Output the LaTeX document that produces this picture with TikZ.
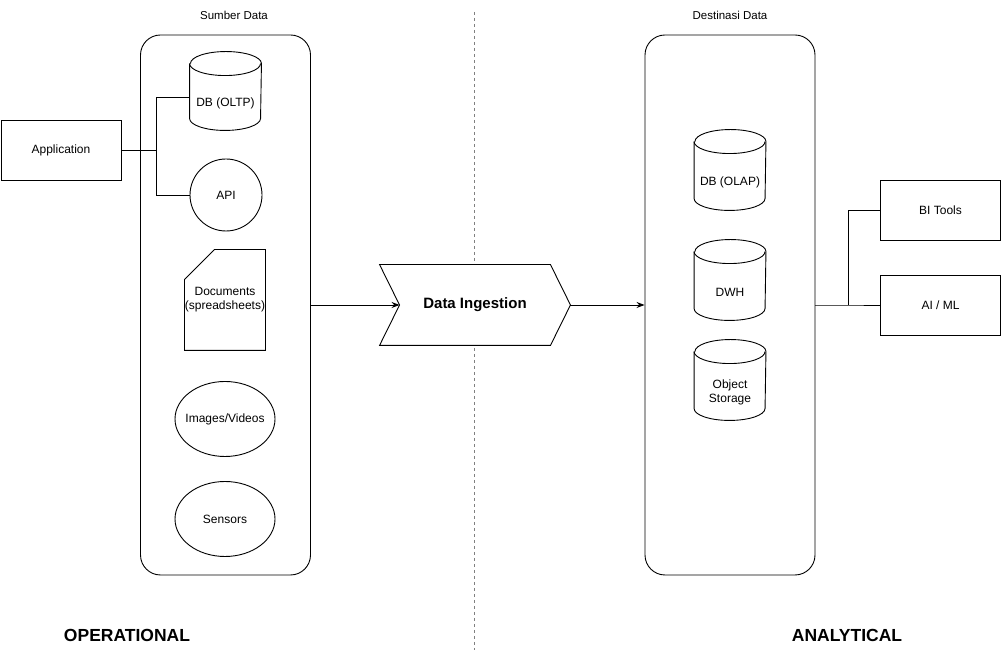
\documentclass[tikz,border=0pt]{standalone}
\usepackage{fontspec}
\setmainfont{Liberation Sans}
\usetikzlibrary{shapes.geometric,arrows.meta,calc}
\newcommand{\cylnode}[4]{%
  \node[cylbox,minimum height=#3] (#1) at (#2) {};
  \draw[fill=white] ($(#1.north west)+(0,-12)$) -- ($(#1.south west)+(0,12)$)
    arc[start angle=180,end angle=360,x radius=35.5pt,y radius=12pt]
    -- ($(#1.north east)+(0,-12)$)
    arc[start angle=0,end angle=180,x radius=35.5pt,y radius=12pt];
  \draw ($(#1.north west)+(0,-12)$) arc[start angle=180,end angle=360,x radius=35.5pt,y radius=12pt];
  \node[lbl,align=center] at ($(#1.center)+(0,-12)$) {#4};
}
\begin{document}
\begin{tikzpicture}[x=1pt,y=1pt,line width=0.9pt,
  lbl/.style={font=\fontsize{12}{14}\selectfont,inner sep=0pt},
  box/.style={draw,rectangle,minimum width=120pt,minimum height=60pt,inner sep=0pt,font=\fontsize{12}{14}\selectfont},
  container/.style={draw,rectangle,rounded corners=20pt,minimum width=170pt,minimum height=540pt,inner sep=0pt},
  cylbox/.style={rectangle,minimum width=71pt,inner sep=0pt},
  shapebox/.style={rectangle,inner sep=0pt,font=\fontsize{12}{14}\selectfont,align=center},
  ell/.style={draw,ellipse,minimum width=100pt,minimum height=75pt,inner sep=-10pt,font=\fontsize{12}{14}\selectfont},
  arr/.style={-{Stealth[length=8pt,width=6pt]}},
  bigtitle/.style={font=\fontsize{17.5}{20}\selectfont\bfseries,inner sep=0pt},
  captext/.style={font=\fontsize{11.5}{13}\selectfont,inner sep=0pt}
]
\useasboundingbox (0,0) rectangle (1001,660);

% divider
\draw[gray,dash pattern=on 3pt off 3pt,line width=1pt] (474,648) -- (474,10);

% containers
\node[container] (lc) at (225.5,355) {};
\node[container] (rc) at (730,355) {};
\node[captext] (sd) at (234,645) {Sumber Data};
\node[captext] (dd) at (730,645) {Destinasi Data};

% left side
\node[box] (app) at (61,510) {Application};
\cylnode{oltp}{225.5,569}{78pt}{DB (OLTP)}
\node[draw,circle,minimum size=72pt,inner sep=0pt,font=\fontsize{12}{14}\selectfont] (api) at (226,465) {API};
\node[shapebox,minimum width=80pt,minimum height=100pt] (doc) at (225,360) {Documents\\(spreadsheets)};
\draw ($(doc.north west)+(0,-30)$) -- ($(doc.north west)+(30,0)$) -- (doc.north east) -- (doc.south east) -- (doc.south west) -- cycle;
\node[ell] (img) at (225,241) {Images/Videos};
\node[ell] (sen) at (225,141) {Sensors};

\coordinate (j1) at (156,510);
\draw (app.east) -- (j1);
\draw (j1) |- ($(oltp.west)+(0,-6)$);
\draw (j1) |- (api.west);

% ingestion
\node[shapebox,minimum width=190pt,minimum height=80pt] (ing) at (475,355) {};
\draw[fill=white] (ing.north west) -- ($(ing.north east)+(-20,0)$) -- (ing.east) -- ($(ing.south east)+(-20,0)$) -- (ing.south west) -- ($(ing.west)+(20,0)$) -- cycle;
\node[inner sep=0pt,font=\fontsize{15}{17}\selectfont\bfseries] at (ing.center) {Data Ingestion};
\coordinate (notch) at ($(ing.west)+(20,0)$);
\draw[arr] (lc.east) -- (notch);
\draw[arr] (ing.east) -- (rc.west);

% right side
\cylnode{olap}{730,490}{80pt}{DB (OLAP)}
\cylnode{dwh}{730,380}{80pt}{DWH}
\cylnode{obj}{730,280}{80pt}{Object\\Storage}

\node[box] (bi) at (940.5,450) {BI Tools};
\node[box] (ai) at (940.5,355) {AI / ML};
\coordinate (j2) at (848,355);
\draw (rc.east) -- (j2) -- (ai.west);
\draw (j2) |- (bi.west);

% titles
\node[bigtitle] (op) at (127,25) {OPERATIONAL};
\node[bigtitle] (an) at (847,25) {ANALYTICAL};
\end{tikzpicture}
\end{document}
